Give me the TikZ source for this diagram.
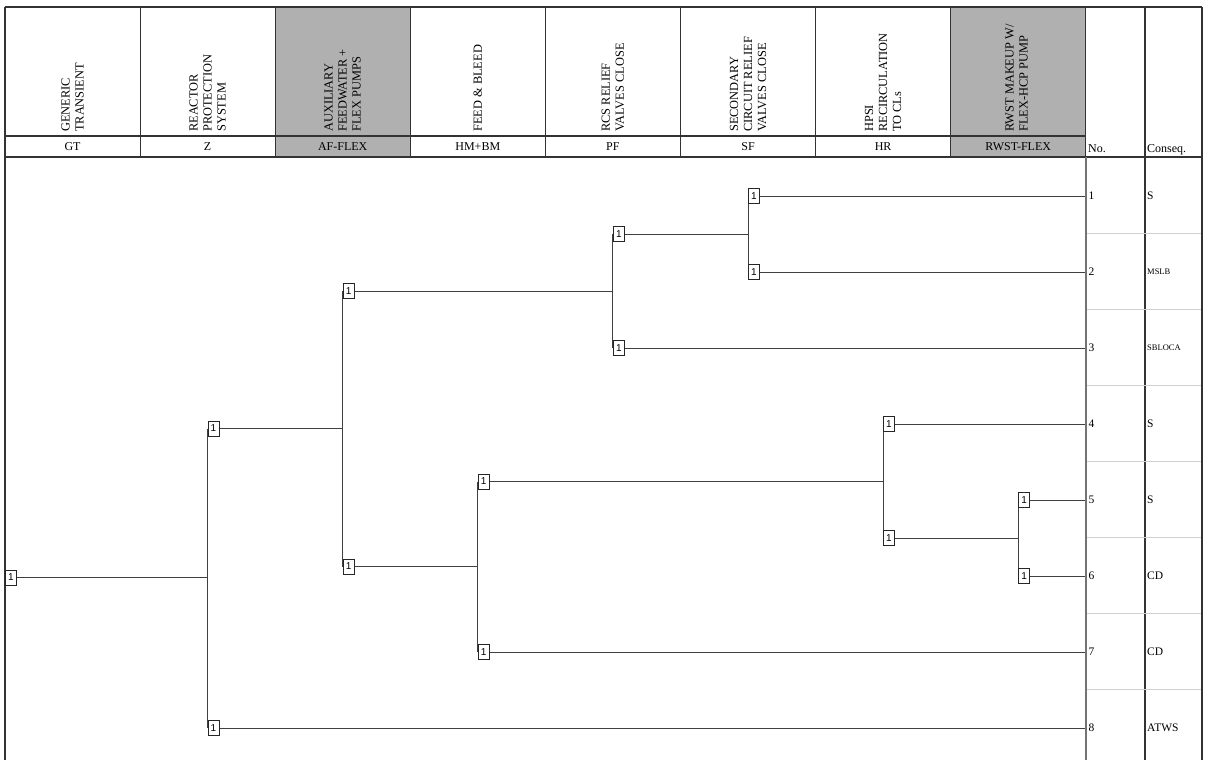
\documentclass[tikz,border=0pt]{standalone}
\usepackage{fontspec}
\setmainfont{Liberation Serif}
\newfontfamily\boxfont{Liberation Sans}
\usetikzlibrary{backgrounds}
\begin{document}
\begin{tikzpicture}[x=1pt,y=-1pt,
  frame/.style={draw=black!80,line width=1.1pt},
  shade/.style={fill=black!31},
  title/.style={rotate=90,anchor=west,align=left,inner sep=0pt,font=\fontsize{12.4}{14}\selectfont},
  code/.style={inner sep=0pt,font=\fontsize{12}{12}\selectfont},
  br/.style={draw=black!75,line width=0.9pt},
  tbox/.style={draw=black!85,fill=white,line width=0.8pt,inner sep=0pt,minimum width=11pt,minimum height=15pt,anchor=west,font=\boxfont\fontsize{10}{10}\selectfont},
  rownum/.style={anchor=west,inner sep=0pt,font=\fontsize{11.5}{11.5}\selectfont},
  cq/.style={anchor=west,inner sep=0pt,font=\fontsize{11.5}{11.5}\selectfont},
  cqs/.style={anchor=west,inner sep=0pt,font=\fontsize{8.5}{8.5}\selectfont},
  sep/.style={draw=black!18,line width=0.6pt}
]
\useasboundingbox (0,0) rectangle (1208,760);
% shaded header columns
\fill[shade] (275.2,7) rectangle (410.3,157);
\fill[shade] (950.7,7) rectangle (1085.8,157);
% header grid
\draw[frame] (5,7) -- (1202,7);
\draw[frame] (5,136) -- (1085.8,136);
\draw[frame] (5,157) -- (1202,157);
\foreach \i in {0,...,7} {
  \draw[frame] ({5+135.1*\i},7) -- ({5+135.1*\i},157);
}
\draw[frame] (1085.8,7) -- (1085.8,157);
\draw[frame] (1145,7) -- (1145,760);
\draw[frame] (1202,7) -- (1202,760);
\draw[frame] (5,157) -- (5,760);
\draw[draw=black!55,line width=1.5pt] (1085.8,157) -- (1085.8,760);
% row separators
\foreach \k in {1,...,7} {
  \draw[sep] (1086.6,{157+76*\k}) -- (1201.4,{157+76*\k});
}
% titles
\node[title] (tgt) at (72.5,132) {GENERIC\\TRANSIENT};
\node[title] (tz) at (207.6,132) {REACTOR\\PROTECTION\\SYSTEM};
\node[title] (taf) at (342.7,132) {AUXILIARY\\FEEDWATER +\\FLEX PUMPS};
\node[title] (thm) at (477.8,132) {FEED \& BLEED};
\node[title] (tpf) at (612.9,132) {RCS RELIEF\\VALVES CLOSE};
\node[title] (tsf) at (748.0,132) {SECONDARY\\CIRCUIT RELIEF\\VALVES CLOSE};
\node[title] (thr) at (883.1,132) {HPSI\\RECIRCULATION\\TO CLs};
\node[title] (trw) at (1016.5,132) {RWST MAKEUP W/\\FLEX-HCP PUMP};
% codes
\node[code] (cgt) at (72.5,146.5) {GT};
\node[code] (cz) at (207.6,146.5) {Z};
\node[code] (caf) at (342.7,146.5) {AF-FLEX};
\node[code] (chm) at (477.8,146.5) {HM+BM};
\node[code] (cpf) at (612.9,146.5) {PF};
\node[code] (csf) at (748.0,146.5) {SF};
\node[code] (chr) at (883.1,146.5) {HR};
\node[code] (crw) at (1018.2,146.5) {RWST-FLEX};
\node[code,anchor=base west] (cno) at (1088,152.5) {No.};
\node[code,anchor=base west] (ccq) at (1147,152.5) {Conseq.};
% end points
\coordinate (e1) at (1085.8,196);
\coordinate (e2) at (1085.8,272);
\coordinate (e3) at (1085.8,348);
\coordinate (e4) at (1085.8,424);
\coordinate (e5) at (1085.8,500);
\coordinate (e6) at (1085.8,576);
\coordinate (e7) at (1085.8,652);
\coordinate (e8) at (1085.8,728);
% split points
\coordinate (s1) at (207.6,577.5);
\coordinate (s2) at (342.7,428.5);
\coordinate (s3) at (612.9,291);
\coordinate (s4) at (748.0,234);
\coordinate (s5) at (477.8,566.5);
\coordinate (s6) at (883.1,481.5);
\coordinate (s7) at (1018.2,538);
% boxes
\node[tbox] (gt) at (5,577.5) {1};
\node[tbox] (z1) at (207.6,428.5) {1};
\node[tbox] (z2) at (207.6,728) {1};
\node[tbox] (af1) at (342.7,291) {1};
\node[tbox] (af2) at (342.7,566.5) {1};
\node[tbox] (pf1) at (612.9,234) {1};
\node[tbox] (pf2) at (612.9,348) {1};
\node[tbox] (sf1) at (748.0,196) {1};
\node[tbox] (sf2) at (748.0,272) {1};
\node[tbox] (hm1) at (477.8,481.5) {1};
\node[tbox] (hm2) at (477.8,652) {1};
\node[tbox] (hr1) at (883.1,424) {1};
\node[tbox] (hr2) at (883.1,538) {1};
\node[tbox] (rw1) at (1018.2,500) {1};
\node[tbox] (rw2) at (1018.2,576) {1};
% branches behind the boxes
\begin{pgfonlayer}{background}
\draw[br] (gt.east) -- (s1);
\draw[br] (z1.west) -- (z2.west);
\draw[br] (z1.east) -- (s2);
\draw[br] (z2.east) -- (e8);
\draw[br] (af1.west) -- (af2.west);
\draw[br] (af1.east) -- (s3);
\draw[br] (af2.east) -- (s5);
\draw[br] (pf1.west) -- (pf2.west);
\draw[br] (pf1.east) -- (s4);
\draw[br] (pf2.east) -- (e3);
\draw[br] (sf1.west) -- (sf2.west);
\draw[br] (sf1.east) -- (e1);
\draw[br] (sf2.east) -- (e2);
\draw[br] (hm1.west) -- (hm2.west);
\draw[br] (hm1.east) -- (s6);
\draw[br] (hm2.east) -- (e7);
\draw[br] (hr1.west) -- (hr2.west);
\draw[br] (hr1.east) -- (e4);
\draw[br] (hr2.east) -- (s7);
\draw[br] (rw1.west) -- (rw2.west);
\draw[br] (rw1.east) -- (e5);
\draw[br] (rw2.east) -- (e6);
\end{pgfonlayer}
% row numbers
\node[rownum] (n1) at (1088.5,196) {1};
\node[rownum] (n2) at (1088.5,272) {2};
\node[rownum] (n3) at (1088.5,348) {3};
\node[rownum] (n4) at (1088.5,424) {4};
\node[rownum] (n5) at (1088.5,500) {5};
\node[rownum] (n6) at (1088.5,576) {6};
\node[rownum] (n7) at (1088.5,652) {7};
\node[rownum] (n8) at (1088.5,728) {8};
% consequences
\node[cq] (q1) at (1147,196) {S};
\node[cqs] (q2) at (1147,272) {MSLB};
\node[cqs] (q3) at (1147,348) {SBLOCA};
\node[cq] (q4) at (1147,424) {S};
\node[cq] (q5) at (1147,500) {S};
\node[cq] (q6) at (1147,576) {CD};
\node[cq] (q7) at (1147,652) {CD};
\node[cq] (q8) at (1147,728) {ATWS};
\end{tikzpicture}
\end{document}
